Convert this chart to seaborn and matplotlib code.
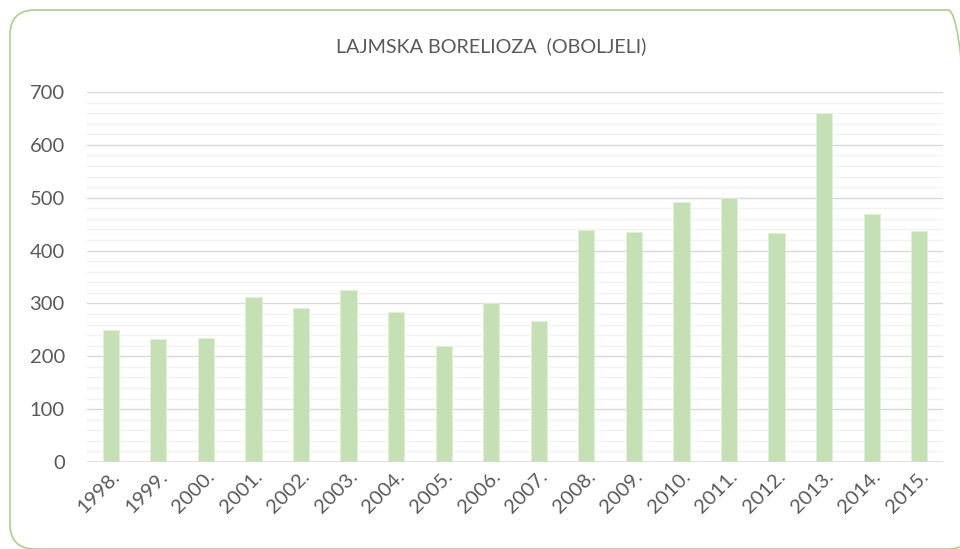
import matplotlib
matplotlib.use("Agg")
import matplotlib.pyplot as plt
import seaborn as sns
from matplotlib.ticker import MultipleLocator
from matplotlib.patches import FancyBboxPatch
from matplotlib.transforms import IdentityTransform

years = ["1998.", "1999.", "2000.", "2001.", "2002.", "2003.", "2004.", "2005.", "2006.",
         "2007.", "2008.", "2009.", "2010.", "2011.", "2012.", "2013.", "2014.", "2015."]
cases = [249, 232, 235, 313, 292, 326, 283, 220, 300,
         266, 439, 435, 491, 499, 434, 660, 470, 437]
title = "LAJMSKA BORELIOZA  (OBOLJELI)"

sns.set_theme(style="white")
plt.rcParams['font.family'] = ['Lato', 'DejaVu Sans']
txt = "#595959"

fig = plt.figure(figsize=(9.6, 5.49), dpi=100)
W, H = 960, 549
ax = fig.add_axes([87 / W, 1 - 462 / H, (943 - 87) / W, (462 - 92) / H])

sns.barplot(x=years, y=cases, color="#C5E0B4", saturation=1, width=0.34, ax=ax,
            edgecolor="#E2F0D9", linewidth=0.6, zorder=3)

ax.set_ylim(0, 700)
ax.set_xlim(-0.5, len(years) - 0.5)
ax.yaxis.set_major_locator(MultipleLocator(100))
ax.yaxis.set_minor_locator(MultipleLocator(20))
ax.grid(which="minor", axis="y", color="#F2F2F2", linewidth=1.0, zorder=0)
ax.grid(which="major", axis="y", color="#D9D9D9", linewidth=1.0, zorder=1)
ax.set_axisbelow(True)
for s in ax.spines.values():
    s.set_visible(False)
ax.axhline(0, color="#D9D9D9", linewidth=1.2, zorder=4)
ax.tick_params(axis="both", which="both", length=0)
ax.tick_params(axis="y", pad=16, labelsize=14.5, labelcolor=txt)
ax.tick_params(axis="x", pad=4, labelsize=14.5, labelcolor=txt)
for lab in ax.get_xticklabels():
    lab.set_rotation(45)
    lab.set_ha("right")
    lab.set_rotation_mode("anchor")
ax.set_xlabel("")
ax.set_ylabel("")

fig.text(491 / W, 1 - 46 / H, title, ha="center", va="center", fontsize=14.2, color=txt)

border = FancyBboxPatch((10, 0), 963, 539, boxstyle="round,pad=0,rounding_size=25",
                        transform=IdentityTransform(), fill=False,
                        edgecolor="#A9D18E", linewidth=1.2, clip_on=False)
fig.patches.append(border)

fig.savefig("out.png", dpi=100)
